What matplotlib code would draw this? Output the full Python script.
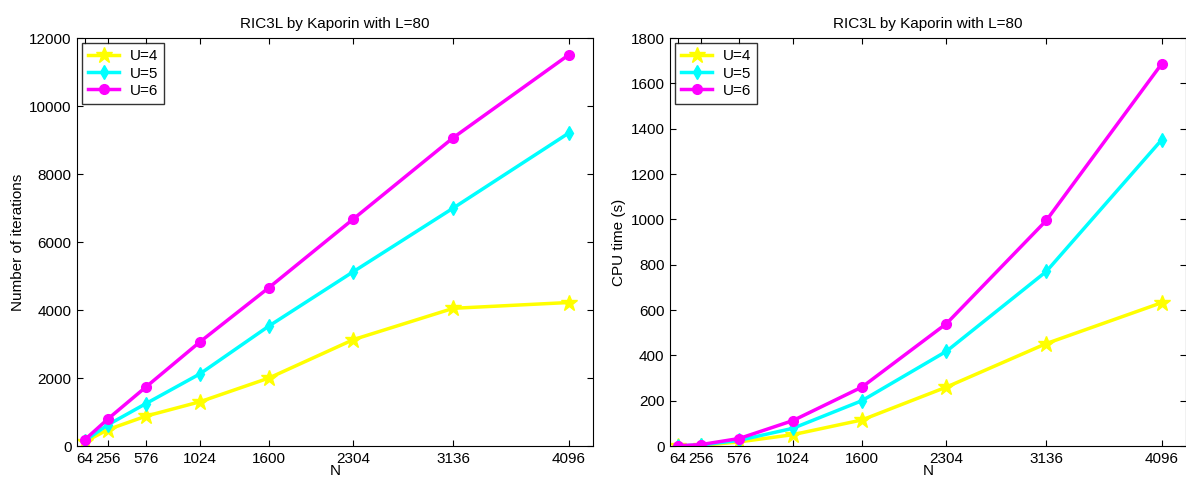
import matplotlib
matplotlib.use("Agg")
import matplotlib.pyplot as plt

plt.rcParams["font.family"] = ["Liberation Sans", "DejaVu Sans"]
plt.rcParams["font.size"] = 11

N = [64, 256, 576, 1024, 1600, 2304, 3136, 4096]
labels = ["U=4", "U=5", "U=6"]

iters_u4 = [120, 480, 880, 1300, 2000, 3130, 4050, 4220]
iters_u5 = [150, 620, 1250, 2120, 3530, 5130, 7000, 9200]
iters_u6 = [180, 790, 1740, 3060, 4660, 6680, 9070, 11500]

cpu_u4 = [0.5, 2, 18, 50, 115, 260, 452, 632]
cpu_u5 = [0.7, 4, 25, 78, 200, 418, 770, 1350]
cpu_u6 = [1, 6, 33, 112, 260, 540, 995, 1685]

colors = ["#ffff00", "#00ffff", "#ff00ff"]
markers = ["*", "d", "o"]
msizes = [12, 7, 7]


def draw_panel(ax, series, ylabel, ymax, ystep):
    for ys, lab, c, m, ms in zip(series, labels, colors, markers, msizes):
        ax.plot(N, ys, color=c, marker=m, markersize=ms, linewidth=2.5, label=lab)
    ax.set_xlim(0, 4300)
    ax.set_ylim(0, ymax)
    ax.set_xticks(N)
    ax.set_xticklabels([str(n) for n in N])
    ax.set_yticks(range(0, ymax + 1, ystep))
    ax.tick_params(direction="in", top=True, right=True, length=4, pad=4)
    ax.set_xlabel("N", labelpad=-1)
    ax.set_ylabel(ylabel, labelpad=3)
    ax.set_title("RIC3L by Kaporin with L=80", fontsize=11, pad=7)
    leg = ax.legend(loc="upper left", fancybox=False, edgecolor="black",
                    borderaxespad=0.35, handlelength=2.0, handletextpad=0.7,
                    labelspacing=0.2, fontsize=11)
    leg.get_frame().set_linewidth(1.0)


fig = plt.figure(figsize=(11.86, 4.83), dpi=100)
ax1 = fig.add_axes([0.0649, 0.0766, 0.4351, 0.8447])
ax2 = fig.add_axes([0.5649, 0.0766, 0.4351, 0.8447])

draw_panel(ax1, [iters_u4, iters_u5, iters_u6], "Number of iterations", 12000, 2000)
draw_panel(ax2, [cpu_u4, cpu_u5, cpu_u6], "CPU time (s)", 1800, 200)

fig.savefig("out.png", dpi=100)
